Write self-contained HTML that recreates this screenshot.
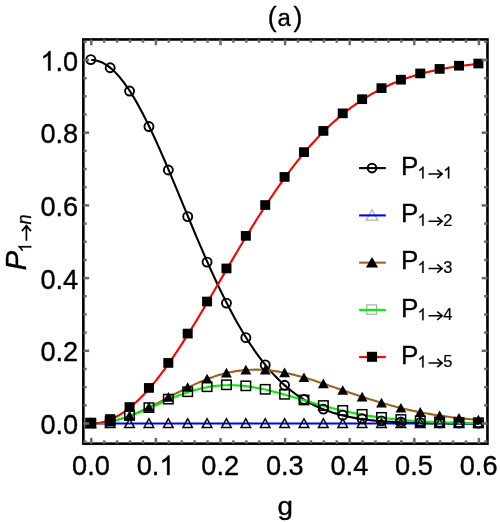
<!DOCTYPE html>
<html><head><meta charset="utf-8"><title>(a)</title><style>html,body{margin:0;padding:0;background:#fff}body{width:500px;height:522px;overflow:hidden;font-family:"Liberation Sans",sans-serif}</style></head><body>
<svg width="500" height="522" viewBox="0 0 500 522" style="display:block;will-change:transform">
<rect width="500" height="522" fill="#fff"/>
<polyline fill="none" stroke="#000000" stroke-width="2.10" stroke-linejoin="round" points="91.30,60.00 92.91,60.06 94.53,60.23 96.14,60.51 97.76,60.91 99.38,61.42 100.99,62.05 102.61,62.79 104.22,63.64 105.83,64.60 107.45,65.67 109.06,66.84 110.68,68.13 112.30,69.52 113.91,71.02 115.52,72.62 117.14,74.33 118.75,76.13 120.37,78.04 121.98,80.04 123.60,82.14 125.22,84.33 126.83,86.61 128.44,88.98 130.06,91.44 131.68,93.99 133.29,96.62 134.91,99.33 136.52,102.12 138.13,104.98 139.75,107.92 141.36,110.93 142.98,114.01 144.59,117.15 146.21,120.36 147.82,123.63 149.44,126.95 151.06,130.33 152.67,133.77 154.28,137.25 155.90,140.78 157.51,144.36 159.13,147.97 160.75,151.63 162.36,155.32 163.97,159.04 165.59,162.79 167.20,166.57 168.82,170.38 170.44,174.21 172.05,178.05 173.66,181.92 175.28,185.79 176.89,189.68 178.51,193.58 180.12,197.48 181.74,201.39 183.35,205.30 184.97,209.20 186.58,213.11 188.20,217.00 189.81,220.89 191.43,224.77 193.05,228.63 194.66,232.48 196.28,236.31 197.89,240.12 199.50,243.91 201.12,247.68 202.73,251.43 204.35,255.14 205.97,258.83 207.58,262.49 209.19,266.11 210.81,269.71 212.43,273.26 214.04,276.79 215.65,280.27 217.27,283.71 218.88,287.12 220.50,290.48 222.12,293.81 223.73,297.08 225.34,300.32 226.96,303.51 228.57,306.65 230.19,309.75 231.81,312.80 233.42,315.80 235.04,318.75 236.65,321.66 238.26,324.51 239.88,327.32 241.50,330.07 243.11,332.78 244.72,335.43 246.34,338.03 247.95,340.58 249.57,343.09 251.19,345.54 252.80,347.94 254.42,350.28 256.03,352.58 257.64,354.83 259.26,357.03 260.88,359.17 262.49,361.27 264.11,363.32 265.72,365.32 267.33,367.27 268.95,369.17 270.56,371.02 272.18,372.83 273.79,374.59 275.41,376.30 277.02,377.97 278.64,379.59 280.25,381.17 281.87,382.70 283.49,384.19 285.10,385.64 286.71,387.05 288.33,388.41 289.94,389.74 291.56,391.02 293.18,392.27 294.79,393.48 296.40,394.65 298.02,395.78 299.63,396.88 301.25,397.94 302.86,398.96 304.48,399.96 306.09,400.92 307.71,401.84 309.32,402.74 310.94,403.61 312.56,404.44 314.17,405.25 315.78,406.02 317.40,406.77 319.01,407.50 320.63,408.19 322.25,408.86 323.86,409.51 325.47,410.13 327.09,410.73 328.70,411.30 330.32,411.85 331.93,412.38 333.55,412.89 335.17,413.38 336.78,413.85 338.39,414.30 340.01,414.74 341.62,415.15 343.24,415.55 344.86,415.93 346.47,416.30 348.08,416.65 349.70,416.98 351.31,417.30 352.93,417.61 354.55,417.90 356.16,418.18 357.77,418.45 359.39,418.71 361.01,418.95 362.62,419.18 364.24,419.41 365.85,419.62 367.47,419.82 369.08,420.01 370.69,420.20 372.31,420.37 373.93,420.54 375.54,420.70 377.16,420.85 378.77,420.99 380.38,421.13 382.00,421.26 383.62,421.38 385.23,421.50 386.84,421.61 388.46,421.72 390.08,421.82 391.69,421.91 393.31,422.00 394.92,422.09 396.53,422.17 398.15,422.25 399.76,422.32 401.38,422.39 403.00,422.45 404.61,422.52 406.23,422.57 407.84,422.63 409.45,422.68 411.07,422.73 412.69,422.78 414.30,422.82 415.91,422.86 417.53,422.90 419.14,422.94 420.76,422.97 422.38,423.01 423.99,423.04 425.60,423.07 427.22,423.09 428.83,423.12 430.45,423.14 432.06,423.17 433.68,423.19 435.30,423.21 436.91,423.23 438.52,423.24 440.14,423.26 441.75,423.28 443.37,423.29 444.99,423.31 446.60,423.32 448.22,423.33 449.83,423.34 451.44,423.35 453.06,423.36 454.68,423.37 456.29,423.38 457.91,423.39 459.52,423.40 461.13,423.40 462.75,423.41 464.37,423.42 465.98,423.42 467.59,423.43 469.21,423.43 470.83,423.44 472.44,423.44 474.05,423.45 475.67,423.45 477.29,423.45 478.90,423.46"/>
<polyline fill="none" stroke="#0000ff" stroke-width="2.10" stroke-linejoin="round" points="91.30,423.50 92.91,423.50 94.53,423.50 96.14,423.50 97.76,423.50 99.38,423.50 100.99,423.50 102.61,423.50 104.22,423.50 105.83,423.50 107.45,423.50 109.06,423.50 110.68,423.50 112.30,423.50 113.91,423.50 115.52,423.50 117.14,423.50 118.75,423.50 120.37,423.50 121.98,423.50 123.60,423.50 125.22,423.50 126.83,423.50 128.44,423.50 130.06,423.50 131.68,423.50 133.29,423.50 134.91,423.50 136.52,423.50 138.13,423.50 139.75,423.50 141.36,423.50 142.98,423.50 144.59,423.50 146.21,423.50 147.82,423.50 149.44,423.50 151.06,423.50 152.67,423.50 154.28,423.50 155.90,423.50 157.51,423.50 159.13,423.50 160.75,423.50 162.36,423.50 163.97,423.50 165.59,423.50 167.20,423.50 168.82,423.50 170.44,423.50 172.05,423.50 173.66,423.50 175.28,423.50 176.89,423.50 178.51,423.50 180.12,423.50 181.74,423.50 183.35,423.50 184.97,423.50 186.58,423.50 188.20,423.50 189.81,423.50 191.43,423.50 193.05,423.50 194.66,423.50 196.28,423.50 197.89,423.50 199.50,423.50 201.12,423.50 202.73,423.50 204.35,423.50 205.97,423.50 207.58,423.50 209.19,423.50 210.81,423.50 212.43,423.50 214.04,423.50 215.65,423.50 217.27,423.50 218.88,423.50 220.50,423.50 222.12,423.50 223.73,423.50 225.34,423.50 226.96,423.50 228.57,423.50 230.19,423.50 231.81,423.50 233.42,423.50 235.04,423.50 236.65,423.50 238.26,423.50 239.88,423.50 241.50,423.50 243.11,423.50 244.72,423.50 246.34,423.50 247.95,423.50 249.57,423.50 251.19,423.50 252.80,423.50 254.42,423.50 256.03,423.50 257.64,423.50 259.26,423.50 260.88,423.50 262.49,423.50 264.11,423.50 265.72,423.50 267.33,423.50 268.95,423.50 270.56,423.50 272.18,423.50 273.79,423.50 275.41,423.50 277.02,423.50 278.64,423.50 280.25,423.50 281.87,423.50 283.49,423.50 285.10,423.50 286.71,423.50 288.33,423.50 289.94,423.50 291.56,423.50 293.18,423.50 294.79,423.50 296.40,423.50 298.02,423.50 299.63,423.50 301.25,423.50 302.86,423.50 304.48,423.50 306.09,423.50 307.71,423.50 309.32,423.50 310.94,423.50 312.56,423.50 314.17,423.50 315.78,423.50 317.40,423.50 319.01,423.50 320.63,423.50 322.25,423.50 323.86,423.50 325.47,423.50 327.09,423.50 328.70,423.50 330.32,423.50 331.93,423.50 333.55,423.50 335.17,423.50 336.78,423.50 338.39,423.50 340.01,423.50 341.62,423.50 343.24,423.50 344.86,423.50 346.47,423.50 348.08,423.50 349.70,423.50 351.31,423.50 352.93,423.50 354.55,423.50 356.16,423.50 357.77,423.50 359.39,423.50 361.01,423.50 362.62,423.50 364.24,423.50 365.85,423.50 367.47,423.50 369.08,423.50 370.69,423.50 372.31,423.50 373.93,423.50 375.54,423.50 377.16,423.50 378.77,423.50 380.38,423.50 382.00,423.50 383.62,423.50 385.23,423.50 386.84,423.50 388.46,423.50 390.08,423.50 391.69,423.50 393.31,423.50 394.92,423.50 396.53,423.50 398.15,423.50 399.76,423.50 401.38,423.50 403.00,423.50 404.61,423.50 406.23,423.50 407.84,423.50 409.45,423.50 411.07,423.50 412.69,423.50 414.30,423.50 415.91,423.50 417.53,423.50 419.14,423.50 420.76,423.50 422.38,423.50 423.99,423.50 425.60,423.50 427.22,423.50 428.83,423.50 430.45,423.50 432.06,423.50 433.68,423.50 435.30,423.50 436.91,423.50 438.52,423.50 440.14,423.50 441.75,423.50 443.37,423.50 444.99,423.50 446.60,423.50 448.22,423.50 449.83,423.50 451.44,423.50 453.06,423.50 454.68,423.50 456.29,423.50 457.91,423.50 459.52,423.50 461.13,423.50 462.75,423.50 464.37,423.50 465.98,423.50 467.59,423.50 469.21,423.50 470.83,423.50 472.44,423.50 474.05,423.50 475.67,423.50 477.29,423.50 478.90,423.50"/>
<polyline fill="none" stroke="#a0621f" stroke-width="2.10" stroke-linejoin="round" points="91.30,423.50 92.91,423.49 94.53,423.44 96.14,423.37 97.76,423.27 99.38,423.14 100.99,422.99 102.61,422.80 104.22,422.59 105.83,422.35 107.45,422.09 109.06,421.79 110.68,421.47 112.30,421.13 113.91,420.76 115.52,420.36 117.14,419.94 118.75,419.49 120.37,419.02 121.98,418.53 123.60,418.01 125.22,417.47 126.83,416.91 128.44,416.33 130.06,415.73 131.68,415.11 133.29,414.47 134.91,413.81 136.52,413.14 138.13,412.45 139.75,411.74 141.36,411.02 142.98,410.28 144.59,409.53 146.21,408.77 147.82,407.99 149.44,407.21 151.06,406.41 152.67,405.61 154.28,404.80 155.90,403.98 157.51,403.15 159.13,402.32 160.75,401.48 162.36,400.64 163.97,399.80 165.59,398.95 167.20,398.11 168.82,397.26 170.44,396.41 172.05,395.57 173.66,394.73 175.28,393.89 176.89,393.05 178.51,392.22 180.12,391.40 181.74,390.58 183.35,389.76 184.97,388.96 186.58,388.17 188.20,387.38 189.81,386.61 191.43,385.84 193.05,385.09 194.66,384.35 196.28,383.62 197.89,382.91 199.50,382.21 201.12,381.52 202.73,380.85 204.35,380.20 205.97,379.56 207.58,378.94 209.19,378.34 210.81,377.75 212.43,377.18 214.04,376.63 215.65,376.10 217.27,375.59 218.88,375.10 220.50,374.63 222.12,374.18 223.73,373.75 225.34,373.34 226.96,372.96 228.57,372.59 230.19,372.24 231.81,371.92 233.42,371.62 235.04,371.34 236.65,371.08 238.26,370.84 239.88,370.62 241.50,370.43 243.11,370.26 244.72,370.11 246.34,369.98 247.95,369.87 249.57,369.78 251.19,369.72 252.80,369.68 254.42,369.65 256.03,369.65 257.64,369.67 259.26,369.71 260.88,369.76 262.49,369.84 264.11,369.94 265.72,370.06 267.33,370.19 268.95,370.35 270.56,370.52 272.18,370.71 273.79,370.92 275.41,371.14 277.02,371.39 278.64,371.64 280.25,371.92 281.87,372.21 283.49,372.51 285.10,372.83 286.71,373.17 288.33,373.51 289.94,373.88 291.56,374.25 293.18,374.64 294.79,375.04 296.40,375.45 298.02,375.87 299.63,376.30 301.25,376.74 302.86,377.20 304.48,377.66 306.09,378.13 307.71,378.61 309.32,379.10 310.94,379.59 312.56,380.09 314.17,380.60 315.78,381.12 317.40,381.64 319.01,382.17 320.63,382.70 322.25,383.23 323.86,383.77 325.47,384.31 327.09,384.86 328.70,385.41 330.32,385.96 331.93,386.51 333.55,387.07 335.17,387.63 336.78,388.18 338.39,388.74 340.01,389.30 341.62,389.86 343.24,390.42 344.86,390.97 346.47,391.53 348.08,392.08 349.70,392.64 351.31,393.19 352.93,393.74 354.55,394.28 356.16,394.83 357.77,395.37 359.39,395.90 361.01,396.44 362.62,396.97 364.24,397.49 365.85,398.01 367.47,398.53 369.08,399.04 370.69,399.55 372.31,400.05 373.93,400.55 375.54,401.04 377.16,401.53 378.77,402.01 380.38,402.49 382.00,402.96 383.62,403.43 385.23,403.88 386.84,404.34 388.46,404.78 390.08,405.22 391.69,405.66 393.31,406.09 394.92,406.51 396.53,406.92 398.15,407.33 399.76,407.73 401.38,408.13 403.00,408.52 404.61,408.90 406.23,409.28 407.84,409.65 409.45,410.01 411.07,410.36 412.69,410.71 414.30,411.06 415.91,411.39 417.53,411.72 419.14,412.05 420.76,412.36 422.38,412.67 423.99,412.98 425.60,413.28 427.22,413.57 428.83,413.85 430.45,414.13 432.06,414.40 433.68,414.67 435.30,414.93 436.91,415.19 438.52,415.43 440.14,415.68 441.75,415.91 443.37,416.15 444.99,416.37 446.60,416.59 448.22,416.81 449.83,417.02 451.44,417.22 453.06,417.42 454.68,417.62 456.29,417.80 457.91,417.99 459.52,418.17 461.13,418.34 462.75,418.51 464.37,418.68 465.98,418.84 467.59,418.99 469.21,419.14 470.83,419.29 472.44,419.44 474.05,419.57 475.67,419.71 477.29,419.84 478.90,419.97"/>
<polyline fill="none" stroke="#00f000" stroke-width="2.10" stroke-linejoin="round" points="91.30,423.50 92.91,423.49 94.53,423.44 96.14,423.37 97.76,423.27 99.38,423.14 100.99,422.99 102.61,422.81 104.22,422.59 105.83,422.36 107.45,422.09 109.06,421.80 110.68,421.48 112.30,421.14 113.91,420.78 115.52,420.39 117.14,419.97 118.75,419.54 120.37,419.08 121.98,418.60 123.60,418.10 125.22,417.58 126.83,417.04 128.44,416.48 130.06,415.90 131.68,415.31 133.29,414.71 134.91,414.09 136.52,413.45 138.13,412.81 139.75,412.15 141.36,411.48 142.98,410.80 144.59,410.11 146.21,409.42 147.82,408.72 149.44,408.02 151.06,407.31 152.67,406.60 154.28,405.88 155.90,405.17 157.51,404.45 159.13,403.74 160.75,403.02 162.36,402.32 163.97,401.61 165.59,400.91 167.20,400.22 168.82,399.53 170.44,398.85 172.05,398.18 173.66,397.52 175.28,396.87 176.89,396.23 178.51,395.60 180.12,394.99 181.74,394.39 183.35,393.81 184.97,393.24 186.58,392.68 188.20,392.14 189.81,391.62 191.43,391.12 193.05,390.63 194.66,390.17 196.28,389.72 197.89,389.29 199.50,388.88 201.12,388.49 202.73,388.12 204.35,387.78 205.97,387.45 207.58,387.15 209.19,386.86 210.81,386.60 212.43,386.36 214.04,386.15 215.65,385.95 217.27,385.78 218.88,385.62 220.50,385.49 222.12,385.38 223.73,385.30 225.34,385.23 226.96,385.19 228.57,385.17 230.19,385.16 231.81,385.18 233.42,385.22 235.04,385.28 236.65,385.36 238.26,385.46 239.88,385.58 241.50,385.71 243.11,385.87 244.72,386.04 246.34,386.23 247.95,386.44 249.57,386.66 251.19,386.90 252.80,387.16 254.42,387.43 256.03,387.71 257.64,388.01 259.26,388.32 260.88,388.65 262.49,388.99 264.11,389.34 265.72,389.70 267.33,390.07 268.95,390.45 270.56,390.84 272.18,391.24 273.79,391.65 275.41,392.07 277.02,392.50 278.64,392.93 280.25,393.37 281.87,393.81 283.49,394.26 285.10,394.72 286.71,395.18 288.33,395.64 289.94,396.11 291.56,396.57 293.18,397.05 294.79,397.52 296.40,397.99 298.02,398.47 299.63,398.95 301.25,399.42 302.86,399.90 304.48,400.37 306.09,400.85 307.71,401.32 309.32,401.79 310.94,402.26 312.56,402.73 314.17,403.19 315.78,403.65 317.40,404.11 319.01,404.57 320.63,405.02 322.25,405.46 323.86,405.90 325.47,406.34 327.09,406.77 328.70,407.20 330.32,407.62 331.93,408.03 333.55,408.44 335.17,408.85 336.78,409.25 338.39,409.64 340.01,410.02 341.62,410.40 343.24,410.78 344.86,411.14 346.47,411.51 348.08,411.86 349.70,412.21 351.31,412.55 352.93,412.88 354.55,413.21 356.16,413.53 357.77,413.84 359.39,414.15 361.01,414.45 362.62,414.74 364.24,415.03 365.85,415.31 367.47,415.58 369.08,415.85 370.69,416.11 372.31,416.36 373.93,416.61 375.54,416.85 377.16,417.08 378.77,417.31 380.38,417.53 382.00,417.75 383.62,417.95 385.23,418.16 386.84,418.36 388.46,418.55 390.08,418.73 391.69,418.91 393.31,419.09 394.92,419.26 396.53,419.42 398.15,419.58 399.76,419.74 401.38,419.89 403.00,420.03 404.61,420.17 406.23,420.30 407.84,420.44 409.45,420.56 411.07,420.68 412.69,420.80 414.30,420.91 415.91,421.02 417.53,421.13 419.14,421.23 420.76,421.33 422.38,421.42 423.99,421.51 425.60,421.60 427.22,421.68 428.83,421.76 430.45,421.84 432.06,421.92 433.68,421.99 435.30,422.06 436.91,422.12 438.52,422.19 440.14,422.25 441.75,422.31 443.37,422.36 444.99,422.42 446.60,422.47 448.22,422.52 449.83,422.56 451.44,422.61 453.06,422.65 454.68,422.69 456.29,422.73 457.91,422.77 459.52,422.81 461.13,422.84 462.75,422.88 464.37,422.91 465.98,422.94 467.59,422.97 469.21,422.99 470.83,423.02 472.44,423.04 474.05,423.07 475.67,423.09 477.29,423.11 478.90,423.13"/>
<polyline fill="none" stroke="#ff0000" stroke-width="2.10" stroke-linejoin="round" points="91.30,423.50 92.91,423.47 94.53,423.39 96.14,423.24 97.76,423.04 99.38,422.79 100.99,422.47 102.61,422.10 104.22,421.68 105.83,421.19 107.45,420.66 109.06,420.06 110.68,419.41 112.30,418.71 113.91,417.95 115.52,417.13 117.14,416.26 118.75,415.34 120.37,414.37 121.98,413.34 123.60,412.26 125.22,411.13 126.83,409.94 128.44,408.71 130.06,407.42 131.68,406.09 133.29,404.70 134.91,403.27 136.52,401.79 138.13,400.27 139.75,398.69 141.36,397.07 142.98,395.41 144.59,393.70 146.21,391.95 147.82,390.16 149.44,388.32 151.06,386.44 152.67,384.53 154.28,382.57 155.90,380.57 157.51,378.54 159.13,376.47 160.75,374.37 162.36,372.23 163.97,370.05 165.59,367.84 167.20,365.60 168.82,363.33 170.44,361.03 172.05,358.70 173.66,356.34 175.28,353.95 176.89,351.54 178.51,349.10 180.12,346.63 181.74,344.14 183.35,341.63 184.97,339.10 186.58,336.55 188.20,333.97 189.81,331.38 191.43,328.77 193.05,326.15 194.66,323.51 196.28,320.85 197.89,318.18 199.50,315.50 201.12,312.80 202.73,310.10 204.35,307.38 205.97,304.66 207.58,301.93 209.19,299.19 210.81,296.44 212.43,293.69 214.04,290.93 215.65,288.18 217.27,285.41 218.88,282.65 220.50,279.89 222.12,277.13 223.73,274.36 225.34,271.60 226.96,268.85 228.57,266.09 230.19,263.34 231.81,260.60 233.42,257.86 235.04,255.13 236.65,252.41 238.26,249.69 239.88,246.98 241.50,244.29 243.11,241.60 244.72,238.92 246.34,236.26 247.95,233.61 249.57,230.97 251.19,228.34 252.80,225.73 254.42,223.14 256.03,220.56 257.64,217.99 259.26,215.45 260.88,212.91 262.49,210.40 264.11,207.91 265.72,205.43 267.33,202.97 268.95,200.53 270.56,198.12 272.18,195.72 273.79,193.34 275.41,190.98 277.02,188.65 278.64,186.34 280.25,184.05 281.87,181.78 283.49,179.53 285.10,177.31 286.71,175.11 288.33,172.93 289.94,170.78 291.56,168.65 293.18,166.55 294.79,164.47 296.40,162.41 298.02,160.38 299.63,158.38 301.25,156.40 302.86,154.44 304.48,152.51 306.09,150.60 307.71,148.72 309.32,146.87 310.94,145.04 312.56,143.23 314.17,141.46 315.78,139.70 317.40,137.98 319.01,136.27 320.63,134.60 322.25,132.95 323.86,131.32 325.47,129.72 327.09,128.14 328.70,126.59 330.32,125.07 331.93,123.57 333.55,122.09 335.17,120.64 336.78,119.22 338.39,117.81 340.01,116.44 341.62,115.08 343.24,113.75 344.86,112.45 346.47,111.17 348.08,109.91 349.70,108.67 351.31,107.46 352.93,106.27 354.55,105.11 356.16,103.96 357.77,102.84 359.39,101.74 361.01,100.67 362.62,99.61 364.24,98.57 365.85,97.56 367.47,96.57 369.08,95.60 370.69,94.65 372.31,93.71 373.93,92.80 375.54,91.91 377.16,91.04 378.77,90.18 380.38,89.35 382.00,88.53 383.62,87.74 385.23,86.96 386.84,86.19 388.46,85.45 390.08,84.72 391.69,84.01 393.31,83.32 394.92,82.64 396.53,81.98 398.15,81.34 399.76,80.71 401.38,80.10 403.00,79.50 404.61,78.91 406.23,78.34 407.84,77.79 409.45,77.25 411.07,76.72 412.69,76.21 414.30,75.71 415.91,75.22 417.53,74.75 419.14,74.29 420.76,73.84 422.38,73.40 423.99,72.97 425.60,72.56 427.22,72.16 428.83,71.76 430.45,71.38 432.06,71.01 433.68,70.65 435.30,70.30 436.91,69.96 438.52,69.63 440.14,69.31 441.75,69.00 443.37,68.70 444.99,68.41 446.60,68.12 448.22,67.84 449.83,67.58 451.44,67.32 453.06,67.06 454.68,66.82 456.29,66.58 457.91,66.35 459.52,66.13 461.13,65.91 462.75,65.70 464.37,65.50 465.98,65.30 467.59,65.11 469.21,64.93 470.83,64.75 472.44,64.58 474.05,64.41 475.67,64.25 477.29,64.09 478.90,63.94"/>
<circle cx="90.80" cy="59.60" r="4.50" fill="none" stroke="#000" stroke-width="1.90"/>
<circle cx="110.18" cy="67.73" r="4.50" fill="none" stroke="#000" stroke-width="1.90"/>
<circle cx="129.56" cy="91.04" r="4.50" fill="none" stroke="#000" stroke-width="1.90"/>
<circle cx="148.94" cy="126.55" r="4.50" fill="none" stroke="#000" stroke-width="1.90"/>
<circle cx="168.32" cy="169.98" r="4.50" fill="none" stroke="#000" stroke-width="1.90"/>
<circle cx="187.70" cy="216.60" r="4.50" fill="none" stroke="#000" stroke-width="1.90"/>
<circle cx="207.08" cy="262.09" r="4.50" fill="none" stroke="#000" stroke-width="1.90"/>
<circle cx="226.46" cy="303.11" r="4.50" fill="none" stroke="#000" stroke-width="1.90"/>
<circle cx="245.84" cy="337.63" r="4.50" fill="none" stroke="#000" stroke-width="1.90"/>
<circle cx="265.22" cy="364.92" r="4.50" fill="none" stroke="#000" stroke-width="1.90"/>
<circle cx="284.60" cy="385.24" r="4.50" fill="none" stroke="#000" stroke-width="1.90"/>
<circle cx="303.98" cy="399.56" r="4.50" fill="none" stroke="#000" stroke-width="1.90"/>
<circle cx="323.36" cy="409.11" r="4.50" fill="none" stroke="#000" stroke-width="1.90"/>
<circle cx="342.74" cy="415.15" r="4.50" fill="none" stroke="#000" stroke-width="1.90"/>
<circle cx="362.12" cy="418.78" r="4.50" fill="none" stroke="#000" stroke-width="1.90"/>
<circle cx="381.50" cy="420.86" r="4.50" fill="none" stroke="#000" stroke-width="1.90"/>
<circle cx="400.88" cy="421.99" r="4.50" fill="none" stroke="#000" stroke-width="1.90"/>
<circle cx="420.26" cy="422.57" r="4.50" fill="none" stroke="#000" stroke-width="1.90"/>
<circle cx="439.64" cy="422.86" r="4.50" fill="none" stroke="#000" stroke-width="1.90"/>
<circle cx="459.02" cy="423.00" r="4.50" fill="none" stroke="#000" stroke-width="1.90"/>
<circle cx="478.40" cy="423.06" r="4.50" fill="none" stroke="#000" stroke-width="1.90"/>
<path d="M86.05 427.45L90.80 418.75L95.55 427.45Z" fill="none" stroke="#000" stroke-opacity="1" stroke-width="1.50" stroke-linejoin="miter"/>
<path d="M105.43 427.45L110.18 418.75L114.93 427.45Z" fill="none" stroke="#000" stroke-opacity="1" stroke-width="1.50" stroke-linejoin="miter"/>
<path d="M124.81 427.45L129.56 418.75L134.31 427.45Z" fill="none" stroke="#000" stroke-opacity="1" stroke-width="1.50" stroke-linejoin="miter"/>
<path d="M144.19 427.45L148.94 418.75L153.69 427.45Z" fill="none" stroke="#000" stroke-opacity="1" stroke-width="1.50" stroke-linejoin="miter"/>
<path d="M163.57 427.45L168.32 418.75L173.07 427.45Z" fill="none" stroke="#000" stroke-opacity="1" stroke-width="1.50" stroke-linejoin="miter"/>
<path d="M182.95 427.45L187.70 418.75L192.45 427.45Z" fill="none" stroke="#000" stroke-opacity="1" stroke-width="1.50" stroke-linejoin="miter"/>
<path d="M202.33 427.45L207.08 418.75L211.83 427.45Z" fill="none" stroke="#000" stroke-opacity="1" stroke-width="1.50" stroke-linejoin="miter"/>
<path d="M221.71 427.45L226.46 418.75L231.21 427.45Z" fill="none" stroke="#000" stroke-opacity="1" stroke-width="1.50" stroke-linejoin="miter"/>
<path d="M241.09 427.45L245.84 418.75L250.59 427.45Z" fill="none" stroke="#000" stroke-opacity="1" stroke-width="1.50" stroke-linejoin="miter"/>
<path d="M260.47 427.45L265.22 418.75L269.97 427.45Z" fill="none" stroke="#000" stroke-opacity="1" stroke-width="1.50" stroke-linejoin="miter"/>
<path d="M279.85 427.45L284.60 418.75L289.35 427.45Z" fill="none" stroke="#000" stroke-opacity="1" stroke-width="1.50" stroke-linejoin="miter"/>
<path d="M299.23 427.45L303.98 418.75L308.73 427.45Z" fill="none" stroke="#000" stroke-opacity="1" stroke-width="1.50" stroke-linejoin="miter"/>
<path d="M318.61 427.45L323.36 418.75L328.11 427.45Z" fill="none" stroke="#000" stroke-opacity="1" stroke-width="1.50" stroke-linejoin="miter"/>
<path d="M337.99 427.45L342.74 418.75L347.49 427.45Z" fill="none" stroke="#000" stroke-opacity="1" stroke-width="1.50" stroke-linejoin="miter"/>
<path d="M357.37 427.45L362.12 418.75L366.87 427.45Z" fill="none" stroke="#000" stroke-opacity="1" stroke-width="1.50" stroke-linejoin="miter"/>
<path d="M376.75 427.45L381.50 418.75L386.25 427.45Z" fill="none" stroke="#000" stroke-opacity="1" stroke-width="1.50" stroke-linejoin="miter"/>
<path d="M396.13 427.45L400.88 418.75L405.63 427.45Z" fill="none" stroke="#000" stroke-opacity="1" stroke-width="1.50" stroke-linejoin="miter"/>
<path d="M415.51 427.45L420.26 418.75L425.01 427.45Z" fill="none" stroke="#000" stroke-opacity="1" stroke-width="1.50" stroke-linejoin="miter"/>
<path d="M434.89 427.45L439.64 418.75L444.39 427.45Z" fill="none" stroke="#000" stroke-opacity="1" stroke-width="1.50" stroke-linejoin="miter"/>
<path d="M454.27 427.45L459.02 418.75L463.77 427.45Z" fill="none" stroke="#000" stroke-opacity="1" stroke-width="1.50" stroke-linejoin="miter"/>
<path d="M473.65 427.45L478.40 418.75L483.15 427.45Z" fill="none" stroke="#000" stroke-opacity="1" stroke-width="1.50" stroke-linejoin="miter"/>
<path d="M85.40 427.95L90.80 418.25L96.20 427.95Z" fill="#000"/>
<path d="M104.78 425.92L110.18 416.22L115.58 425.92Z" fill="#000"/>
<path d="M124.16 420.18L129.56 410.48L134.96 420.18Z" fill="#000"/>
<path d="M143.54 411.66L148.94 401.96L154.34 411.66Z" fill="#000"/>
<path d="M162.92 401.71L168.32 392.01L173.72 401.71Z" fill="#000"/>
<path d="M182.30 391.83L187.70 382.13L193.10 391.83Z" fill="#000"/>
<path d="M201.68 383.39L207.08 373.69L212.48 383.39Z" fill="#000"/>
<path d="M221.06 377.41L226.46 367.71L231.86 377.41Z" fill="#000"/>
<path d="M240.44 374.43L245.84 364.73L251.24 374.43Z" fill="#000"/>
<path d="M259.82 374.51L265.22 364.81L270.62 374.51Z" fill="#000"/>
<path d="M279.20 377.28L284.60 367.58L290.00 377.28Z" fill="#000"/>
<path d="M298.58 382.11L303.98 372.41L309.38 382.11Z" fill="#000"/>
<path d="M317.96 388.22L323.36 378.52L328.76 388.22Z" fill="#000"/>
<path d="M337.34 394.87L342.74 385.17L348.14 394.87Z" fill="#000"/>
<path d="M356.72 401.42L362.12 391.72L367.52 401.42Z" fill="#000"/>
<path d="M376.10 407.41L381.50 397.71L386.90 407.41Z" fill="#000"/>
<path d="M395.48 412.58L400.88 402.88L406.28 412.58Z" fill="#000"/>
<path d="M414.86 416.81L420.26 407.11L425.66 416.81Z" fill="#000"/>
<path d="M434.24 420.13L439.64 410.43L445.04 420.13Z" fill="#000"/>
<path d="M453.62 422.62L459.02 412.92L464.42 422.62Z" fill="#000"/>
<path d="M473.00 424.42L478.40 414.72L483.80 424.42Z" fill="#000"/>
<rect x="86.05" y="418.45" width="9.50" height="9.30" fill="none" stroke="#000" stroke-opacity="1" stroke-width="1.50"/>
<rect x="105.43" y="416.43" width="9.50" height="9.30" fill="none" stroke="#000" stroke-opacity="1" stroke-width="1.50"/>
<rect x="124.81" y="410.85" width="9.50" height="9.30" fill="none" stroke="#000" stroke-opacity="1" stroke-width="1.50"/>
<rect x="144.19" y="402.97" width="9.50" height="9.30" fill="none" stroke="#000" stroke-opacity="1" stroke-width="1.50"/>
<rect x="163.57" y="394.48" width="9.50" height="9.30" fill="none" stroke="#000" stroke-opacity="1" stroke-width="1.50"/>
<rect x="182.95" y="387.09" width="9.50" height="9.30" fill="none" stroke="#000" stroke-opacity="1" stroke-width="1.50"/>
<rect x="202.33" y="382.10" width="9.50" height="9.30" fill="none" stroke="#000" stroke-opacity="1" stroke-width="1.50"/>
<rect x="221.71" y="380.14" width="9.50" height="9.30" fill="none" stroke="#000" stroke-opacity="1" stroke-width="1.50"/>
<rect x="241.09" y="381.18" width="9.50" height="9.30" fill="none" stroke="#000" stroke-opacity="1" stroke-width="1.50"/>
<rect x="260.47" y="384.65" width="9.50" height="9.30" fill="none" stroke="#000" stroke-opacity="1" stroke-width="1.50"/>
<rect x="279.85" y="389.67" width="9.50" height="9.30" fill="none" stroke="#000" stroke-opacity="1" stroke-width="1.50"/>
<rect x="299.23" y="395.32" width="9.50" height="9.30" fill="none" stroke="#000" stroke-opacity="1" stroke-width="1.50"/>
<rect x="318.61" y="400.85" width="9.50" height="9.30" fill="none" stroke="#000" stroke-opacity="1" stroke-width="1.50"/>
<rect x="337.99" y="405.73" width="9.50" height="9.30" fill="none" stroke="#000" stroke-opacity="1" stroke-width="1.50"/>
<rect x="357.37" y="409.69" width="9.50" height="9.30" fill="none" stroke="#000" stroke-opacity="1" stroke-width="1.50"/>
<rect x="376.75" y="412.70" width="9.50" height="9.30" fill="none" stroke="#000" stroke-opacity="1" stroke-width="1.50"/>
<rect x="396.13" y="414.84" width="9.50" height="9.30" fill="none" stroke="#000" stroke-opacity="1" stroke-width="1.50"/>
<rect x="415.51" y="416.28" width="9.50" height="9.30" fill="none" stroke="#000" stroke-opacity="1" stroke-width="1.50"/>
<rect x="434.89" y="417.20" width="9.50" height="9.30" fill="none" stroke="#000" stroke-opacity="1" stroke-width="1.50"/>
<rect x="454.27" y="417.76" width="9.50" height="9.30" fill="none" stroke="#000" stroke-opacity="1" stroke-width="1.50"/>
<rect x="473.65" y="418.08" width="9.50" height="9.30" fill="none" stroke="#000" stroke-opacity="1" stroke-width="1.50"/>
<rect x="85.80" y="418.25" width="10.00" height="9.70" fill="#000"/>
<rect x="105.18" y="414.16" width="10.00" height="9.70" fill="#000"/>
<rect x="124.56" y="402.17" width="10.00" height="9.70" fill="#000"/>
<rect x="143.94" y="383.07" width="10.00" height="9.70" fill="#000"/>
<rect x="163.32" y="358.08" width="10.00" height="9.70" fill="#000"/>
<rect x="182.70" y="328.72" width="10.00" height="9.70" fill="#000"/>
<rect x="202.08" y="296.68" width="10.00" height="9.70" fill="#000"/>
<rect x="221.46" y="263.60" width="10.00" height="9.70" fill="#000"/>
<rect x="240.84" y="231.01" width="10.00" height="9.70" fill="#000"/>
<rect x="260.22" y="200.18" width="10.00" height="9.70" fill="#000"/>
<rect x="279.60" y="172.06" width="10.00" height="9.70" fill="#000"/>
<rect x="298.98" y="147.26" width="10.00" height="9.70" fill="#000"/>
<rect x="318.36" y="126.07" width="10.00" height="9.70" fill="#000"/>
<rect x="337.74" y="108.50" width="10.00" height="9.70" fill="#000"/>
<rect x="357.12" y="94.36" width="10.00" height="9.70" fill="#000"/>
<rect x="376.50" y="83.28" width="10.00" height="9.70" fill="#000"/>
<rect x="395.88" y="74.85" width="10.00" height="9.70" fill="#000"/>
<rect x="415.26" y="68.59" width="10.00" height="9.70" fill="#000"/>
<rect x="434.64" y="64.06" width="10.00" height="9.70" fill="#000"/>
<rect x="454.02" y="60.88" width="10.00" height="9.70" fill="#000"/>
<rect x="473.40" y="58.69" width="10.00" height="9.70" fill="#000"/>
<rect x="83.35" y="39.45" width="404.10" height="404.20" fill="none" stroke="#000" stroke-width="2.60"/>
<line x1="91.30" y1="443.65" x2="91.30" y2="437.85" stroke="#6a6a6a" stroke-width="2.50"/>
<line x1="91.30" y1="39.45" x2="91.30" y2="45.25" stroke="#6a6a6a" stroke-width="2.50"/>
<line x1="104.22" y1="443.65" x2="104.22" y2="440.35" stroke="#6a6a6a" stroke-width="2.50"/>
<line x1="104.22" y1="39.45" x2="104.22" y2="42.75" stroke="#6a6a6a" stroke-width="2.50"/>
<line x1="117.14" y1="443.65" x2="117.14" y2="440.35" stroke="#6a6a6a" stroke-width="2.50"/>
<line x1="117.14" y1="39.45" x2="117.14" y2="42.75" stroke="#6a6a6a" stroke-width="2.50"/>
<line x1="130.06" y1="443.65" x2="130.06" y2="440.35" stroke="#6a6a6a" stroke-width="2.50"/>
<line x1="130.06" y1="39.45" x2="130.06" y2="42.75" stroke="#6a6a6a" stroke-width="2.50"/>
<line x1="142.98" y1="443.65" x2="142.98" y2="440.35" stroke="#6a6a6a" stroke-width="2.50"/>
<line x1="142.98" y1="39.45" x2="142.98" y2="42.75" stroke="#6a6a6a" stroke-width="2.50"/>
<line x1="155.90" y1="443.65" x2="155.90" y2="437.85" stroke="#6a6a6a" stroke-width="2.50"/>
<line x1="155.90" y1="39.45" x2="155.90" y2="45.25" stroke="#6a6a6a" stroke-width="2.50"/>
<line x1="168.82" y1="443.65" x2="168.82" y2="440.35" stroke="#6a6a6a" stroke-width="2.50"/>
<line x1="168.82" y1="39.45" x2="168.82" y2="42.75" stroke="#6a6a6a" stroke-width="2.50"/>
<line x1="181.74" y1="443.65" x2="181.74" y2="440.35" stroke="#6a6a6a" stroke-width="2.50"/>
<line x1="181.74" y1="39.45" x2="181.74" y2="42.75" stroke="#6a6a6a" stroke-width="2.50"/>
<line x1="194.66" y1="443.65" x2="194.66" y2="440.35" stroke="#6a6a6a" stroke-width="2.50"/>
<line x1="194.66" y1="39.45" x2="194.66" y2="42.75" stroke="#6a6a6a" stroke-width="2.50"/>
<line x1="207.58" y1="443.65" x2="207.58" y2="440.35" stroke="#6a6a6a" stroke-width="2.50"/>
<line x1="207.58" y1="39.45" x2="207.58" y2="42.75" stroke="#6a6a6a" stroke-width="2.50"/>
<line x1="220.50" y1="443.65" x2="220.50" y2="437.85" stroke="#6a6a6a" stroke-width="2.50"/>
<line x1="220.50" y1="39.45" x2="220.50" y2="45.25" stroke="#6a6a6a" stroke-width="2.50"/>
<line x1="233.42" y1="443.65" x2="233.42" y2="440.35" stroke="#6a6a6a" stroke-width="2.50"/>
<line x1="233.42" y1="39.45" x2="233.42" y2="42.75" stroke="#6a6a6a" stroke-width="2.50"/>
<line x1="246.34" y1="443.65" x2="246.34" y2="440.35" stroke="#6a6a6a" stroke-width="2.50"/>
<line x1="246.34" y1="39.45" x2="246.34" y2="42.75" stroke="#6a6a6a" stroke-width="2.50"/>
<line x1="259.26" y1="443.65" x2="259.26" y2="440.35" stroke="#6a6a6a" stroke-width="2.50"/>
<line x1="259.26" y1="39.45" x2="259.26" y2="42.75" stroke="#6a6a6a" stroke-width="2.50"/>
<line x1="272.18" y1="443.65" x2="272.18" y2="440.35" stroke="#6a6a6a" stroke-width="2.50"/>
<line x1="272.18" y1="39.45" x2="272.18" y2="42.75" stroke="#6a6a6a" stroke-width="2.50"/>
<line x1="285.10" y1="443.65" x2="285.10" y2="437.85" stroke="#6a6a6a" stroke-width="2.50"/>
<line x1="285.10" y1="39.45" x2="285.10" y2="45.25" stroke="#6a6a6a" stroke-width="2.50"/>
<line x1="298.02" y1="443.65" x2="298.02" y2="440.35" stroke="#6a6a6a" stroke-width="2.50"/>
<line x1="298.02" y1="39.45" x2="298.02" y2="42.75" stroke="#6a6a6a" stroke-width="2.50"/>
<line x1="310.94" y1="443.65" x2="310.94" y2="440.35" stroke="#6a6a6a" stroke-width="2.50"/>
<line x1="310.94" y1="39.45" x2="310.94" y2="42.75" stroke="#6a6a6a" stroke-width="2.50"/>
<line x1="323.86" y1="443.65" x2="323.86" y2="440.35" stroke="#6a6a6a" stroke-width="2.50"/>
<line x1="323.86" y1="39.45" x2="323.86" y2="42.75" stroke="#6a6a6a" stroke-width="2.50"/>
<line x1="336.78" y1="443.65" x2="336.78" y2="440.35" stroke="#6a6a6a" stroke-width="2.50"/>
<line x1="336.78" y1="39.45" x2="336.78" y2="42.75" stroke="#6a6a6a" stroke-width="2.50"/>
<line x1="349.70" y1="443.65" x2="349.70" y2="437.85" stroke="#6a6a6a" stroke-width="2.50"/>
<line x1="349.70" y1="39.45" x2="349.70" y2="45.25" stroke="#6a6a6a" stroke-width="2.50"/>
<line x1="362.62" y1="443.65" x2="362.62" y2="440.35" stroke="#6a6a6a" stroke-width="2.50"/>
<line x1="362.62" y1="39.45" x2="362.62" y2="42.75" stroke="#6a6a6a" stroke-width="2.50"/>
<line x1="375.54" y1="443.65" x2="375.54" y2="440.35" stroke="#6a6a6a" stroke-width="2.50"/>
<line x1="375.54" y1="39.45" x2="375.54" y2="42.75" stroke="#6a6a6a" stroke-width="2.50"/>
<line x1="388.46" y1="443.65" x2="388.46" y2="440.35" stroke="#6a6a6a" stroke-width="2.50"/>
<line x1="388.46" y1="39.45" x2="388.46" y2="42.75" stroke="#6a6a6a" stroke-width="2.50"/>
<line x1="401.38" y1="443.65" x2="401.38" y2="440.35" stroke="#6a6a6a" stroke-width="2.50"/>
<line x1="401.38" y1="39.45" x2="401.38" y2="42.75" stroke="#6a6a6a" stroke-width="2.50"/>
<line x1="414.30" y1="443.65" x2="414.30" y2="437.85" stroke="#6a6a6a" stroke-width="2.50"/>
<line x1="414.30" y1="39.45" x2="414.30" y2="45.25" stroke="#6a6a6a" stroke-width="2.50"/>
<line x1="427.22" y1="443.65" x2="427.22" y2="440.35" stroke="#6a6a6a" stroke-width="2.50"/>
<line x1="427.22" y1="39.45" x2="427.22" y2="42.75" stroke="#6a6a6a" stroke-width="2.50"/>
<line x1="440.14" y1="443.65" x2="440.14" y2="440.35" stroke="#6a6a6a" stroke-width="2.50"/>
<line x1="440.14" y1="39.45" x2="440.14" y2="42.75" stroke="#6a6a6a" stroke-width="2.50"/>
<line x1="453.06" y1="443.65" x2="453.06" y2="440.35" stroke="#6a6a6a" stroke-width="2.50"/>
<line x1="453.06" y1="39.45" x2="453.06" y2="42.75" stroke="#6a6a6a" stroke-width="2.50"/>
<line x1="465.98" y1="443.65" x2="465.98" y2="440.35" stroke="#6a6a6a" stroke-width="2.50"/>
<line x1="465.98" y1="39.45" x2="465.98" y2="42.75" stroke="#6a6a6a" stroke-width="2.50"/>
<line x1="478.90" y1="443.65" x2="478.90" y2="437.85" stroke="#6a6a6a" stroke-width="2.50"/>
<line x1="478.90" y1="39.45" x2="478.90" y2="45.25" stroke="#6a6a6a" stroke-width="2.50"/>
<line x1="83.35" y1="441.68" x2="86.65" y2="441.68" stroke="#6a6a6a" stroke-width="2.50"/>
<line x1="487.45" y1="441.68" x2="484.15" y2="441.68" stroke="#6a6a6a" stroke-width="2.50"/>
<line x1="83.35" y1="423.50" x2="89.15" y2="423.50" stroke="#6a6a6a" stroke-width="2.50"/>
<line x1="487.45" y1="423.50" x2="481.65" y2="423.50" stroke="#6a6a6a" stroke-width="2.50"/>
<line x1="83.35" y1="405.32" x2="86.65" y2="405.32" stroke="#6a6a6a" stroke-width="2.50"/>
<line x1="487.45" y1="405.32" x2="484.15" y2="405.32" stroke="#6a6a6a" stroke-width="2.50"/>
<line x1="83.35" y1="387.15" x2="86.65" y2="387.15" stroke="#6a6a6a" stroke-width="2.50"/>
<line x1="487.45" y1="387.15" x2="484.15" y2="387.15" stroke="#6a6a6a" stroke-width="2.50"/>
<line x1="83.35" y1="368.98" x2="86.65" y2="368.98" stroke="#6a6a6a" stroke-width="2.50"/>
<line x1="487.45" y1="368.98" x2="484.15" y2="368.98" stroke="#6a6a6a" stroke-width="2.50"/>
<line x1="83.35" y1="350.80" x2="89.15" y2="350.80" stroke="#6a6a6a" stroke-width="2.50"/>
<line x1="487.45" y1="350.80" x2="481.65" y2="350.80" stroke="#6a6a6a" stroke-width="2.50"/>
<line x1="83.35" y1="332.62" x2="86.65" y2="332.62" stroke="#6a6a6a" stroke-width="2.50"/>
<line x1="487.45" y1="332.62" x2="484.15" y2="332.62" stroke="#6a6a6a" stroke-width="2.50"/>
<line x1="83.35" y1="314.45" x2="86.65" y2="314.45" stroke="#6a6a6a" stroke-width="2.50"/>
<line x1="487.45" y1="314.45" x2="484.15" y2="314.45" stroke="#6a6a6a" stroke-width="2.50"/>
<line x1="83.35" y1="296.27" x2="86.65" y2="296.27" stroke="#6a6a6a" stroke-width="2.50"/>
<line x1="487.45" y1="296.27" x2="484.15" y2="296.27" stroke="#6a6a6a" stroke-width="2.50"/>
<line x1="83.35" y1="278.10" x2="89.15" y2="278.10" stroke="#6a6a6a" stroke-width="2.50"/>
<line x1="487.45" y1="278.10" x2="481.65" y2="278.10" stroke="#6a6a6a" stroke-width="2.50"/>
<line x1="83.35" y1="259.92" x2="86.65" y2="259.92" stroke="#6a6a6a" stroke-width="2.50"/>
<line x1="487.45" y1="259.92" x2="484.15" y2="259.92" stroke="#6a6a6a" stroke-width="2.50"/>
<line x1="83.35" y1="241.75" x2="86.65" y2="241.75" stroke="#6a6a6a" stroke-width="2.50"/>
<line x1="487.45" y1="241.75" x2="484.15" y2="241.75" stroke="#6a6a6a" stroke-width="2.50"/>
<line x1="83.35" y1="223.57" x2="86.65" y2="223.57" stroke="#6a6a6a" stroke-width="2.50"/>
<line x1="487.45" y1="223.57" x2="484.15" y2="223.57" stroke="#6a6a6a" stroke-width="2.50"/>
<line x1="83.35" y1="205.40" x2="89.15" y2="205.40" stroke="#6a6a6a" stroke-width="2.50"/>
<line x1="487.45" y1="205.40" x2="481.65" y2="205.40" stroke="#6a6a6a" stroke-width="2.50"/>
<line x1="83.35" y1="187.22" x2="86.65" y2="187.22" stroke="#6a6a6a" stroke-width="2.50"/>
<line x1="487.45" y1="187.22" x2="484.15" y2="187.22" stroke="#6a6a6a" stroke-width="2.50"/>
<line x1="83.35" y1="169.05" x2="86.65" y2="169.05" stroke="#6a6a6a" stroke-width="2.50"/>
<line x1="487.45" y1="169.05" x2="484.15" y2="169.05" stroke="#6a6a6a" stroke-width="2.50"/>
<line x1="83.35" y1="150.88" x2="86.65" y2="150.88" stroke="#6a6a6a" stroke-width="2.50"/>
<line x1="487.45" y1="150.88" x2="484.15" y2="150.88" stroke="#6a6a6a" stroke-width="2.50"/>
<line x1="83.35" y1="132.70" x2="89.15" y2="132.70" stroke="#6a6a6a" stroke-width="2.50"/>
<line x1="487.45" y1="132.70" x2="481.65" y2="132.70" stroke="#6a6a6a" stroke-width="2.50"/>
<line x1="83.35" y1="114.52" x2="86.65" y2="114.52" stroke="#6a6a6a" stroke-width="2.50"/>
<line x1="487.45" y1="114.52" x2="484.15" y2="114.52" stroke="#6a6a6a" stroke-width="2.50"/>
<line x1="83.35" y1="96.35" x2="86.65" y2="96.35" stroke="#6a6a6a" stroke-width="2.50"/>
<line x1="487.45" y1="96.35" x2="484.15" y2="96.35" stroke="#6a6a6a" stroke-width="2.50"/>
<line x1="83.35" y1="78.17" x2="86.65" y2="78.17" stroke="#6a6a6a" stroke-width="2.50"/>
<line x1="487.45" y1="78.17" x2="484.15" y2="78.17" stroke="#6a6a6a" stroke-width="2.50"/>
<line x1="83.35" y1="60.00" x2="89.15" y2="60.00" stroke="#6a6a6a" stroke-width="2.50"/>
<line x1="487.45" y1="60.00" x2="481.65" y2="60.00" stroke="#6a6a6a" stroke-width="2.50"/>
<line x1="83.35" y1="41.82" x2="86.65" y2="41.82" stroke="#6a6a6a" stroke-width="2.50"/>
<line x1="487.45" y1="41.82" x2="484.15" y2="41.82" stroke="#6a6a6a" stroke-width="2.50"/>
<g transform="translate(91.00 475.00) translate(-18.90 0)" stroke="#000" stroke-width="0.35"><text transform="translate(0.00 0) scale(1.000 1.045)" font-size="27.20" font-family="Liberation Sans, sans-serif">0</text><text transform="translate(15.12 0) scale(1.000 1.045)" font-size="27.20" font-family="Liberation Sans, sans-serif">.</text><text transform="translate(22.68 0) scale(1.000 1.045)" font-size="27.20" font-family="Liberation Sans, sans-serif">0</text></g>
<g transform="translate(155.60 475.00) translate(-18.90 0)" stroke="#000" stroke-width="0.35"><text transform="translate(0.00 0) scale(1.000 1.045)" font-size="27.20" font-family="Liberation Sans, sans-serif">0</text><text transform="translate(15.12 0) scale(1.000 1.045)" font-size="27.20" font-family="Liberation Sans, sans-serif">.</text><path transform="translate(22.68 0) scale(27.200)" stroke-width="0.013" d="M0.3726 0L0.2847 0L0.2847 -0.5601Q0.2529 -0.5298 0.2014 -0.4995Q0.1499 -0.4692 0.1089 -0.4541L0.1089 -0.5391Q0.1826 -0.5737 0.2378 -0.6230Q0.2930 -0.6724 0.3159 -0.7188L0.3726 -0.7188Z"/></g>
<g transform="translate(220.20 475.00) translate(-18.90 0)" stroke="#000" stroke-width="0.35"><text transform="translate(0.00 0) scale(1.000 1.045)" font-size="27.20" font-family="Liberation Sans, sans-serif">0</text><text transform="translate(15.12 0) scale(1.000 1.045)" font-size="27.20" font-family="Liberation Sans, sans-serif">.</text><text transform="translate(22.68 0) scale(1.000 1.045)" font-size="27.20" font-family="Liberation Sans, sans-serif">2</text></g>
<g transform="translate(284.80 475.00) translate(-18.90 0)" stroke="#000" stroke-width="0.35"><text transform="translate(0.00 0) scale(1.000 1.045)" font-size="27.20" font-family="Liberation Sans, sans-serif">0</text><text transform="translate(15.12 0) scale(1.000 1.045)" font-size="27.20" font-family="Liberation Sans, sans-serif">.</text><text transform="translate(22.68 0) scale(1.000 1.045)" font-size="27.20" font-family="Liberation Sans, sans-serif">3</text></g>
<g transform="translate(349.40 475.00) translate(-18.90 0)" stroke="#000" stroke-width="0.35"><text transform="translate(0.00 0) scale(1.000 1.045)" font-size="27.20" font-family="Liberation Sans, sans-serif">0</text><text transform="translate(15.12 0) scale(1.000 1.045)" font-size="27.20" font-family="Liberation Sans, sans-serif">.</text><text transform="translate(22.68 0) scale(1.000 1.045)" font-size="27.20" font-family="Liberation Sans, sans-serif">4</text></g>
<g transform="translate(414.00 475.00) translate(-18.90 0)" stroke="#000" stroke-width="0.35"><text transform="translate(0.00 0) scale(1.000 1.045)" font-size="27.20" font-family="Liberation Sans, sans-serif">0</text><text transform="translate(15.12 0) scale(1.000 1.045)" font-size="27.20" font-family="Liberation Sans, sans-serif">.</text><text transform="translate(22.68 0) scale(1.000 1.045)" font-size="27.20" font-family="Liberation Sans, sans-serif">5</text></g>
<g transform="translate(478.60 475.00) translate(-18.90 0)" stroke="#000" stroke-width="0.35"><text transform="translate(0.00 0) scale(1.000 1.045)" font-size="27.20" font-family="Liberation Sans, sans-serif">0</text><text transform="translate(15.12 0) scale(1.000 1.045)" font-size="27.20" font-family="Liberation Sans, sans-serif">.</text><text transform="translate(22.68 0) scale(1.000 1.045)" font-size="27.20" font-family="Liberation Sans, sans-serif">6</text></g>
<g transform="translate(78.20 434.10) translate(-37.81 0)" stroke="#000" stroke-width="0.35"><text transform="translate(0.00 0) scale(1.000 1.045)" font-size="27.20" font-family="Liberation Sans, sans-serif">0</text><text transform="translate(15.12 0) scale(1.000 1.045)" font-size="27.20" font-family="Liberation Sans, sans-serif">.</text><text transform="translate(22.68 0) scale(1.000 1.045)" font-size="27.20" font-family="Liberation Sans, sans-serif">0</text></g>
<g transform="translate(78.20 361.40) translate(-37.81 0)" stroke="#000" stroke-width="0.35"><text transform="translate(0.00 0) scale(1.000 1.045)" font-size="27.20" font-family="Liberation Sans, sans-serif">0</text><text transform="translate(15.12 0) scale(1.000 1.045)" font-size="27.20" font-family="Liberation Sans, sans-serif">.</text><text transform="translate(22.68 0) scale(1.000 1.045)" font-size="27.20" font-family="Liberation Sans, sans-serif">2</text></g>
<g transform="translate(78.20 288.70) translate(-37.81 0)" stroke="#000" stroke-width="0.35"><text transform="translate(0.00 0) scale(1.000 1.045)" font-size="27.20" font-family="Liberation Sans, sans-serif">0</text><text transform="translate(15.12 0) scale(1.000 1.045)" font-size="27.20" font-family="Liberation Sans, sans-serif">.</text><text transform="translate(22.68 0) scale(1.000 1.045)" font-size="27.20" font-family="Liberation Sans, sans-serif">4</text></g>
<g transform="translate(78.20 216.00) translate(-37.81 0)" stroke="#000" stroke-width="0.35"><text transform="translate(0.00 0) scale(1.000 1.045)" font-size="27.20" font-family="Liberation Sans, sans-serif">0</text><text transform="translate(15.12 0) scale(1.000 1.045)" font-size="27.20" font-family="Liberation Sans, sans-serif">.</text><text transform="translate(22.68 0) scale(1.000 1.045)" font-size="27.20" font-family="Liberation Sans, sans-serif">6</text></g>
<g transform="translate(78.20 143.30) translate(-37.81 0)" stroke="#000" stroke-width="0.35"><text transform="translate(0.00 0) scale(1.000 1.045)" font-size="27.20" font-family="Liberation Sans, sans-serif">0</text><text transform="translate(15.12 0) scale(1.000 1.045)" font-size="27.20" font-family="Liberation Sans, sans-serif">.</text><text transform="translate(22.68 0) scale(1.000 1.045)" font-size="27.20" font-family="Liberation Sans, sans-serif">8</text></g>
<g transform="translate(78.20 70.60) translate(-37.81 0)" stroke="#000" stroke-width="0.35"><path transform="translate(0.00 0) scale(27.200)" stroke-width="0.013" d="M0.3726 0L0.2847 0L0.2847 -0.5601Q0.2529 -0.5298 0.2014 -0.4995Q0.1499 -0.4692 0.1089 -0.4541L0.1089 -0.5391Q0.1826 -0.5737 0.2378 -0.6230Q0.2930 -0.6724 0.3159 -0.7188L0.3726 -0.7188Z"/><text transform="translate(15.12 0) scale(1.000 1.045)" font-size="27.20" font-family="Liberation Sans, sans-serif">.</text><text transform="translate(22.68 0) scale(1.000 1.045)" font-size="27.20" font-family="Liberation Sans, sans-serif">0</text></g>
<g transform="translate(267.65 25.75) translate(0.00 0)" stroke="#000" stroke-width="0.34"><text transform="translate(0.00 0) scale(1.000 1.010)" font-size="26.50" font-family="Liberation Sans, sans-serif">(</text></g>
<g transform="translate(293.60 25.75) translate(0.00 0)" stroke="#000" stroke-width="0.34"><text transform="translate(0.00 0) scale(1.000 1.010)" font-size="26.50" font-family="Liberation Sans, sans-serif">)</text></g>
<g transform="translate(277.50 25.75) translate(0.00 0)" stroke="#000" stroke-width="0.31"><text transform="translate(0.00 0) scale(1.000 0.970)" font-size="24.00" font-family="Liberation Sans, sans-serif">a</text></g>
<g transform="translate(285.20 514.90) translate(-7.73 0)" stroke="#000" stroke-width="0.35"><text transform="translate(0.00 0) scale(1.030 0.970)" font-size="27.00" font-family="Liberation Sans, sans-serif">g</text></g>
<g transform="translate(26.30 270.50) rotate(-90) translate(0.00 0)" stroke="#000" stroke-width="0.36"><text transform="translate(0.00 0) scale(1.060 1.045)" font-size="28.00" font-family="Liberation Sans, sans-serif" font-style="italic">P</text></g>
<g transform="translate(31.30 252.75) rotate(-90) translate(0.00 0)" stroke="#000" stroke-width="0.24"><path transform="translate(0.00 0) scale(18.100)" stroke-width="0.013" d="M0.3726 0L0.2847 0L0.2847 -0.5601Q0.2529 -0.5298 0.2014 -0.4995Q0.1499 -0.4692 0.1089 -0.4541L0.1089 -0.5391Q0.1826 -0.5737 0.2378 -0.6230Q0.2930 -0.6724 0.3159 -0.7188L0.3726 -0.7188Z"/><path fill="none" stroke="#000" stroke-width="1.72" stroke-linejoin="miter" d="M12.05 -4.89H26.90M21.65 -9.41L27.08 -4.89L21.65 -0.36"/><text transform="translate(28.16 0) scale(1.000 1.090)" font-size="18.10" font-family="Liberation Sans, sans-serif" font-style="italic">n</text></g>
<line x1="359.1" y1="168.10" x2="385.8" y2="168.10" stroke="#000000" stroke-width="2.10"/>
<circle cx="372.00" cy="168.10" r="4.30" fill="none" stroke="#000" stroke-width="2.00"/>
<g transform="translate(400.90 174.70) translate(0.00 0)" stroke="#000" stroke-width="0.32"><text transform="translate(0.00 0) scale(1.070 1.045)" font-size="24.30" font-family="Liberation Sans, sans-serif">P</text></g>
<g transform="translate(417.50 178.40) translate(0.00 0)" stroke="#000" stroke-width="0.21"><path transform="translate(0.00 0) scale(16.500)" stroke-width="0.013" d="M0.3726 0L0.2847 0L0.2847 -0.5601Q0.2529 -0.5298 0.2014 -0.4995Q0.1499 -0.4692 0.1089 -0.4541L0.1089 -0.5391Q0.1826 -0.5737 0.2378 -0.6230Q0.2930 -0.6724 0.3159 -0.7188L0.3726 -0.7188Z"/><path fill="none" stroke="#000" stroke-width="1.57" stroke-linejoin="miter" d="M10.99 -4.46H24.52M19.73 -8.58L24.68 -4.46L19.73 -0.33"/><path transform="translate(25.67 0) scale(16.500)" stroke-width="0.013" d="M0.3726 0L0.2847 0L0.2847 -0.5601Q0.2529 -0.5298 0.2014 -0.4995Q0.1499 -0.4692 0.1089 -0.4541L0.1089 -0.5391Q0.1826 -0.5737 0.2378 -0.6230Q0.2930 -0.6724 0.3159 -0.7188L0.3726 -0.7188Z"/></g>
<path d="M366.20 220.10L372.00 209.90L377.80 220.10Z" fill="none" stroke="#000" stroke-opacity="0.3" stroke-width="1.30" stroke-linejoin="miter"/>
<line x1="359.1" y1="215.40" x2="385.8" y2="215.40" stroke="#0000ff" stroke-width="2.10"/>
<g transform="translate(400.90 222.00) translate(0.00 0)" stroke="#000" stroke-width="0.32"><text transform="translate(0.00 0) scale(1.070 1.045)" font-size="24.30" font-family="Liberation Sans, sans-serif">P</text></g>
<g transform="translate(417.50 225.70) translate(0.00 0)" stroke="#000" stroke-width="0.21"><path transform="translate(0.00 0) scale(16.500)" stroke-width="0.013" d="M0.3726 0L0.2847 0L0.2847 -0.5601Q0.2529 -0.5298 0.2014 -0.4995Q0.1499 -0.4692 0.1089 -0.4541L0.1089 -0.5391Q0.1826 -0.5737 0.2378 -0.6230Q0.2930 -0.6724 0.3159 -0.7188L0.3726 -0.7188Z"/><path fill="none" stroke="#000" stroke-width="1.57" stroke-linejoin="miter" d="M10.99 -4.46H24.52M19.73 -8.58L24.68 -4.46L19.73 -0.33"/><text transform="translate(25.67 0) scale(1.000 1.045)" font-size="16.50" font-family="Liberation Sans, sans-serif">2</text></g>
<line x1="359.1" y1="262.65" x2="385.8" y2="262.65" stroke="#a0621f" stroke-width="2.10"/>
<path d="M365.90 267.45L372.00 257.05L378.10 267.45Z" fill="#000"/>
<g transform="translate(400.90 269.25) translate(0.00 0)" stroke="#000" stroke-width="0.32"><text transform="translate(0.00 0) scale(1.070 1.045)" font-size="24.30" font-family="Liberation Sans, sans-serif">P</text></g>
<g transform="translate(417.50 272.95) translate(0.00 0)" stroke="#000" stroke-width="0.21"><path transform="translate(0.00 0) scale(16.500)" stroke-width="0.013" d="M0.3726 0L0.2847 0L0.2847 -0.5601Q0.2529 -0.5298 0.2014 -0.4995Q0.1499 -0.4692 0.1089 -0.4541L0.1089 -0.5391Q0.1826 -0.5737 0.2378 -0.6230Q0.2930 -0.6724 0.3159 -0.7188L0.3726 -0.7188Z"/><path fill="none" stroke="#000" stroke-width="1.57" stroke-linejoin="miter" d="M10.99 -4.46H24.52M19.73 -8.58L24.68 -4.46L19.73 -0.33"/><text transform="translate(25.67 0) scale(1.000 1.045)" font-size="16.50" font-family="Liberation Sans, sans-serif">3</text></g>
<rect x="366.80" y="304.85" width="9.80" height="9.50" fill="none" stroke="#000" stroke-opacity="0.3" stroke-width="1.30"/>
<line x1="359.1" y1="309.90" x2="385.8" y2="309.90" stroke="#00f000" stroke-width="2.10"/>
<g transform="translate(400.90 316.50) translate(0.00 0)" stroke="#000" stroke-width="0.32"><text transform="translate(0.00 0) scale(1.070 1.045)" font-size="24.30" font-family="Liberation Sans, sans-serif">P</text></g>
<g transform="translate(417.50 320.20) translate(0.00 0)" stroke="#000" stroke-width="0.21"><path transform="translate(0.00 0) scale(16.500)" stroke-width="0.013" d="M0.3726 0L0.2847 0L0.2847 -0.5601Q0.2529 -0.5298 0.2014 -0.4995Q0.1499 -0.4692 0.1089 -0.4541L0.1089 -0.5391Q0.1826 -0.5737 0.2378 -0.6230Q0.2930 -0.6724 0.3159 -0.7188L0.3726 -0.7188Z"/><path fill="none" stroke="#000" stroke-width="1.57" stroke-linejoin="miter" d="M10.99 -4.46H24.52M19.73 -8.58L24.68 -4.46L19.73 -0.33"/><text transform="translate(25.67 0) scale(1.000 1.045)" font-size="16.50" font-family="Liberation Sans, sans-serif">4</text></g>
<line x1="359.1" y1="357.10" x2="385.8" y2="357.10" stroke="#ff0000" stroke-width="2.10"/>
<rect x="366.90" y="351.80" width="10.20" height="10.00" fill="#000"/>
<g transform="translate(400.90 363.70) translate(0.00 0)" stroke="#000" stroke-width="0.32"><text transform="translate(0.00 0) scale(1.070 1.045)" font-size="24.30" font-family="Liberation Sans, sans-serif">P</text></g>
<g transform="translate(417.50 367.40) translate(0.00 0)" stroke="#000" stroke-width="0.21"><path transform="translate(0.00 0) scale(16.500)" stroke-width="0.013" d="M0.3726 0L0.2847 0L0.2847 -0.5601Q0.2529 -0.5298 0.2014 -0.4995Q0.1499 -0.4692 0.1089 -0.4541L0.1089 -0.5391Q0.1826 -0.5737 0.2378 -0.6230Q0.2930 -0.6724 0.3159 -0.7188L0.3726 -0.7188Z"/><path fill="none" stroke="#000" stroke-width="1.57" stroke-linejoin="miter" d="M10.99 -4.46H24.52M19.73 -8.58L24.68 -4.46L19.73 -0.33"/><text transform="translate(25.67 0) scale(1.000 1.045)" font-size="16.50" font-family="Liberation Sans, sans-serif">5</text></g>
</svg>
</body></html>
